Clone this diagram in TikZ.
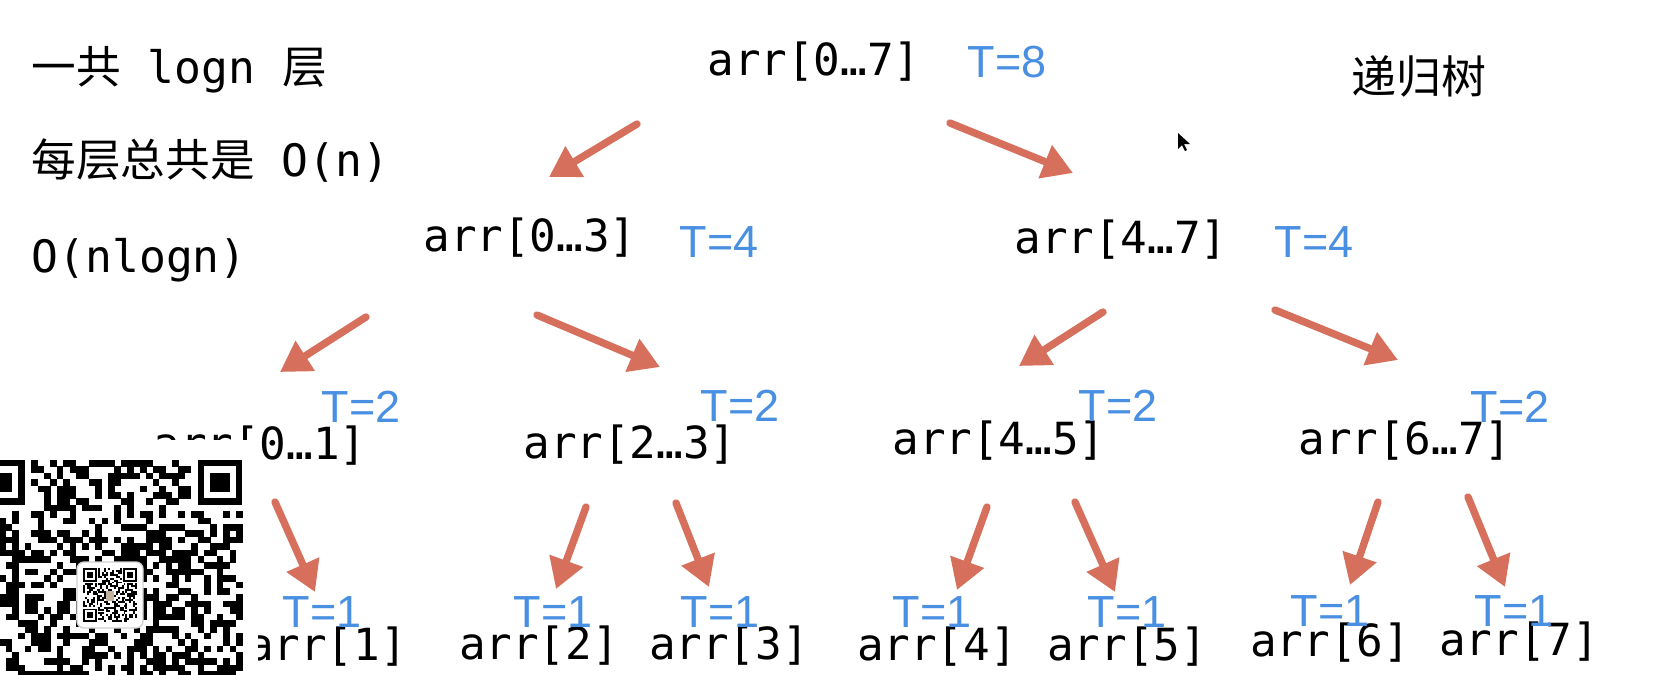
\documentclass[tikz,border=0pt]{standalone}
\usepackage{fontspec}
\setmonofont{DejaVu Sans Mono}
\setsansfont{Liberation Sans}
\newfontfamily\cjk{Noto Sans CJK SC}
\usetikzlibrary{arrows.meta, positioning}
\definecolor{tblue}{RGB}{74,144,226}
\definecolor{arrowred}{RGB}{214,112,92}

\begin{document}
\begin{tikzpicture}[
    on grid,
    arrnode/.style={inner sep=2pt, font=\fontsize{12.6}{14}\selectfont\ttfamily},
    tlabel/.style={inner sep=1pt, text=tblue, font=\fontsize{12.8}{15}\selectfont\sffamily},
    note/.style={inner sep=0pt, anchor=base west, font=\fontsize{12.7}{15}\selectfont\ttfamily},
    arrow/.style={line width=2.1pt, draw=arrowred, line cap=round, -{Triangle[length=0.30cm, width=0.34cm]}},
]
    \useasboundingbox[fill=white] (0,0) rectangle (16.56,-6.74);

    % notes on the left
    \node (note1) [note] at (0.31,-0.83) {{\cjk 一共} logn {\cjk 层}};
    \node (note2) [note, below=0.93 of note1.base west, anchor=base west] {{\cjk 每层总共是} O(n)};
    \node (note3) [note, below=0.96 of note2.base west, anchor=base west] {O(nlogn)};

    % recursion tree
    \node (root) [arrnode] at (8.14,-0.62) {arr[0…7]};
    \node (t8) [tlabel, right=1.93 of root] {T=8};
    \node (title) [below right=0.14 and 6.05 of root, inner sep=0pt, font=\fontsize{12.8}{15}\selectfont\cjk] {递归树};

    \node (a03) [arrnode, below left=1.76 and 2.84 of root] {arr[0…3]};
    \node (t4a) [tlabel, below right=0.04 and 1.89 of a03] {T=4};
    \node (a47) [arrnode, below right=1.78 and 3.07 of root] {arr[4…7]};
    \node (t4b) [tlabel, below right=0.02 and 1.93 of a47] {T=4};

    \node (a01) [arrnode, below left=2.08 and 2.70 of a03] {arr[0…1]};
    \node (t2a) [tlabel, above right=0.39 and 1.01 of a01] {T=2};
    \node (a23) [arrnode, below right=2.07 and 1.00 of a03] {arr[2…3]};
    \node (t2b) [tlabel, above right=0.39 and 1.10 of a23] {T=2};
    \node (a45) [arrnode, below left=2.01 and 1.22 of a47] {arr[4…5]};
    \node (t2c) [tlabel, above right=0.35 and 1.19 of a45] {T=2};
    \node (a67) [arrnode, below right=2.01 and 2.84 of a47] {arr[6…7]};
    \node (t2d) [tlabel, above right=0.34 and 1.05 of a67] {T=2};

    \node (a1) [arrnode, below right=2.01 and 0.67 of a01] {arr[1]};
    \node (t1a) [tlabel, above left=0.35 and 0.05 of a1] {T=1};
    \node (a2) [arrnode, below left=2.01 and 0.91 of a23] {arr[2]};
    \node (t1b) [tlabel, above right=0.34 and 0.14 of a2] {T=1};
    \node (a3) [arrnode, below right=2.01 and 0.99 of a23] {arr[3]};
    \node (t1c) [tlabel, above left=0.34 and 0.09 of a3] {T=1};
    \node (a4) [arrnode, below left=2.06 and 0.62 of a45] {arr[4]};
    \node (t1d) [tlabel, above left=0.35 and 0.05 of a4] {T=1};
    \node (a5) [arrnode, below right=2.06 and 1.28 of a45] {arr[5]};
    \node (t1e) [tlabel, above=0.35 of a5] {T=1};
    \node (a6) [arrnode, below left=2.02 and 0.75 of a67] {arr[6]};
    \node (t1f) [tlabel, above=0.32 of a6] {T=1};
    \node (a7) [arrnode, below right=2.01 and 1.14 of a67] {arr[7]};
    \node (t1g) [tlabel, above left=0.31 and 0.05 of a7] {T=1};

    % qr code pasted over the bottom left corner
    \begin{scope}
        \clip (0,-4.40) rectangle (2.58,-6.74);
        \fill[white] (0,-4.40) rectangle (2.58,-6.74);
        \pgfmathsetseed{4711}
        \foreach \i in {0,...,40} {
            \foreach \j in {0,...,34} {
                \pgfmathparse{rnd}
                \ifdim\pgfmathresult pt<0.5pt
                    \fill (-0.20+\i*0.064,-4.60-\j*0.064) rectangle ++(0.066,-0.066);
                \fi
            }
        }
        \foreach \fx/\fy in {-0.20/-4.60, 1.976/-4.60} {
            \fill[white] (\fx-0.064,\fy+0.064) rectangle ++(0.576,-0.576);
            \fill (\fx,\fy) rectangle ++(0.448,-0.448);
            \fill[white] (\fx+0.064,\fy-0.064) rectangle ++(0.32,-0.32);
            \fill (\fx+0.128,\fy-0.128) rectangle ++(0.192,-0.192);
        }
        \filldraw[fill=white, draw=gray!35, rounded corners=2pt] (0.77,-5.62) rectangle (1.43,-6.28);
        \foreach \i in {0,...,27} {
            \foreach \j in {0,...,27} {
                \pgfmathparse{rnd}
                \ifdim\pgfmathresult pt<0.5pt
                    \fill (0.83+\i*0.0193,-5.68-\j*0.0193) rectangle ++(0.0195,-0.0195);
                \fi
            }
        }
        \foreach \fx/\fy in {0.83/-5.68, 1.2349/-5.68, 0.83/-6.0851} {
            \fill[white] (\fx-0.0193,\fy+0.0193) rectangle ++(0.1737,-0.1737);
            \fill (\fx,\fy) rectangle ++(0.1351,-0.1351);
            \fill[white] (\fx+0.0193,\fy-0.0193) rectangle ++(0.0965,-0.0965);
            \fill (\fx+0.0386,\fy-0.0386) rectangle ++(0.0579,-0.0579);
        }
        \fill[brown!45!gray!60] (1.06,-5.91) rectangle (1.14,-6.01);
    \end{scope}

    % mouse pointer
    \fill (11.78,-1.33) -- (11.78,-1.49) -- (11.82,-1.45) -- (11.85,-1.51) -- (11.87,-1.50) -- (11.84,-1.44) -- (11.90,-1.44) -- cycle;

    \draw [arrow] ([shift={(-1.77,-0.62)}]root.center) -- ([shift={(0.19,0.61)}]a03.center);
    \draw [arrow] ([shift={(1.36,-0.61)}]root.center) -- ([shift={(-0.48,0.67)}]a47.center);
    \draw [arrow] ([shift={(-1.64,-0.79)}]a03.center) -- ([shift={(0.20,0.74)}]a01.center);
    \draw [arrow] ([shift={(0.07,-0.77)}]a03.center) -- ([shift={(0.30,0.78)}]a23.center);
    \draw [arrow] ([shift={(-0.18,-0.72)}]a47.center) -- ([shift={(0.20,0.75)}]a45.center);
    \draw [arrow] ([shift={(1.54,-0.70)}]a47.center) -- ([shift={(-0.07,0.81)}]a67.center);
    \draw [arrow] ([shift={(0.15,-0.56)}]a01.center) -- ([shift={(-0.12,0.55)}]a1.center);
    \draw [arrow] ([shift={(-0.44,-0.62)}]a23.center) -- ([shift={(0.17,0.57)}]a2.center);
    \draw [arrow] ([shift={(0.46,-0.58)}]a23.center) -- ([shift={(-0.20,0.59)}]a3.center);
    \draw [arrow] ([shift={(-0.12,-0.66)}]a45.center) -- ([shift={(0.20,0.57)}]a4.center);
    \draw [arrow] ([shift={(0.76,-0.61)}]a45.center) -- ([shift={(-0.12,0.55)}]a5.center);
    \draw [arrow] ([shift={(-0.27,-0.61)}]a67.center) -- ([shift={(0.20,0.58)}]a6.center);
    \draw [arrow] ([shift={(0.63,-0.56)}]a67.center) -- ([shift={(-0.14,0.55)}]a7.center);

\end{tikzpicture}
\end{document}
